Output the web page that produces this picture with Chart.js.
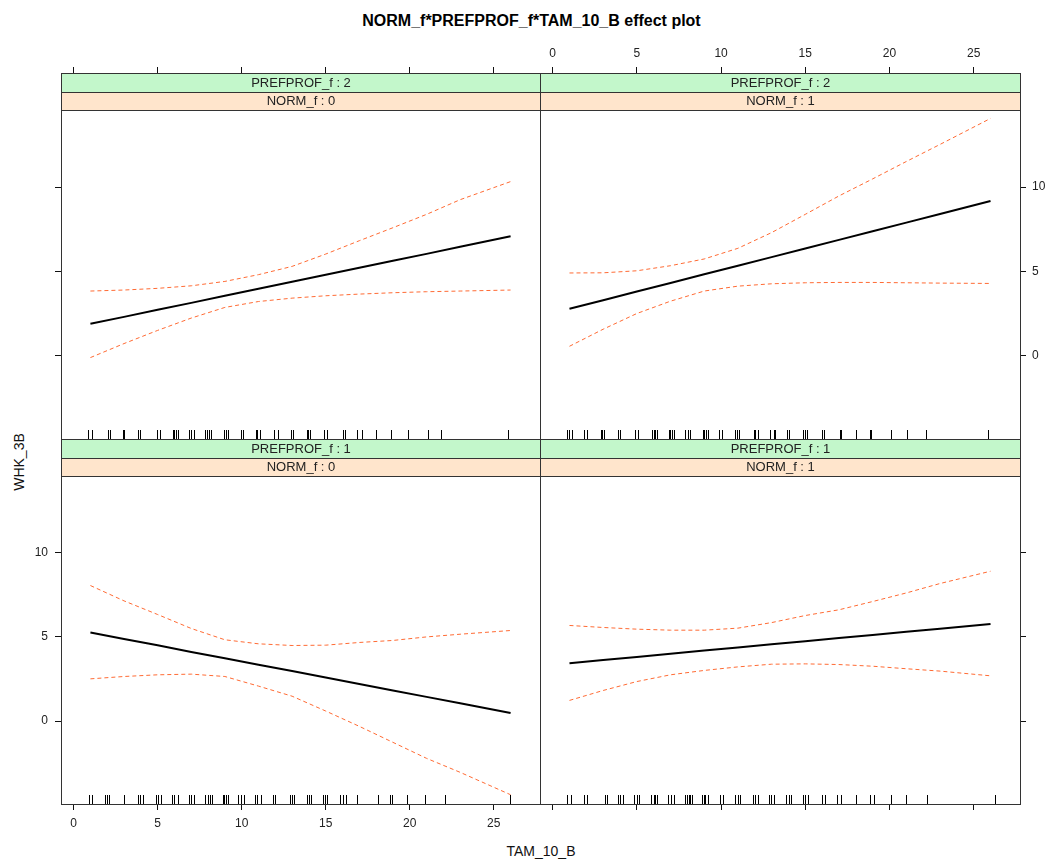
<!DOCTYPE html>
<html>
<head>
<meta charset="utf-8">
<title>NORM_f*PREFPROF_f*TAM_10_B effect plot</title>
<script src="https://cdn.jsdelivr.net/npm/chart.js@4.4.1/dist/chart.umd.min.js"></script>
<style>
body{margin:0;background:#fff;width:1047px;height:861px;overflow:hidden;position:relative;font-family:"Liberation Sans",Arial,sans-serif;color:#111}
canvas{position:absolute;left:0;top:0}
.lbl{position:absolute;white-space:nowrap;line-height:20px}
#title{left:0;top:11px;width:1063px;text-align:center;font-weight:bold;font-size:16px;color:#000}
#ylab{left:19px;top:462px;font-size:14px;transform:translate(-50%,-50%) rotate(-90deg)}
#xlab{left:541px;top:851px;font-size:14px;transform:translate(-50%,-50%)}
</style>
</head>
<body>
<div class="lbl" id="title">NORM_f*PREFPROF_f*TAM_10_B effect plot</div>
<div class="lbl" id="ylab">WHK_3B</div>
<div class="lbl" id="xlab">TAM_10_B</div>
<canvas id="p1" width="1047" height="861"></canvas>
<canvas id="p2" width="1047" height="861"></canvas>
<canvas id="p3" width="1047" height="861"></canvas>
<canvas id="p4" width="1047" height="861"></canvas>
<script>
/* DATA */
const xGrid=[1,3,5,7,9,11,13,15,17,19,21,23,26];
const xTicks=[0,5,10,15,20,25];
const yTicks=[0,5,10];

// PREFPROF_f : 2 / NORM_f : 0
const fitP2N0=[1.90,2.31,2.73,3.14,3.56,3.97,4.39,4.80,5.22,5.63,6.04,6.46,7.08];
const upP2N0=[3.84,3.90,4.00,4.15,4.41,4.81,5.30,6.03,6.82,7.59,8.38,9.25,10.32];
const loP2N0=[-0.10,0.73,1.51,2.24,2.87,3.22,3.42,3.56,3.66,3.74,3.80,3.84,3.90];
const rugP2N0=[0.88,1.07,2.02,2.16,2.94,3.02,3.85,3.97,4.96,5.12,5.89,5.98,6.08,6.19,6.84,6.98,7.14,7.83,7.93,8.05,8.17,8.96,9.06,9.16,9.95,10.05,10.84,10.94,11.08,11.93,12.17,12.96,13.06,13.86,13.95,14.07,14.87,15.1,16.04,16.15,16.89,17.15,18.02,18.87,19.92,21.09,21.84,25.85];

// PREFPROF_f : 2 / NORM_f : 1
const fitP2N1=[2.79,3.30,3.81,4.32,4.83,5.34,5.85,6.36,6.87,7.38,7.89,8.40,9.17];
const upP2N1=[4.91,4.92,5.04,5.34,5.74,6.37,7.30,8.38,9.47,10.48,11.51,12.52,14.06];
const loP2N1=[0.57,1.58,2.51,3.24,3.84,4.13,4.27,4.33,4.35,4.35,4.33,4.31,4.29];
const rugP2N1=[0.88,0.99,1.13,1.89,2.02,2.86,2.96,3.07,3.87,4.01,4.92,5.04,5.89,5.99,6.09,6.19,6.88,6.98,7.08,7.18,7.87,8.03,8.17,8.9,9.0,9.1,9.22,9.89,10.05,10.84,10.94,11.08,11.93,12.03,12.17,12.88,13.12,13.22,13.92,14.01,14.87,14.98,15.1,15.99,16.1,17.05,17.15,18.04,18.83,18.93,20.12,21.05,22.14,25.85];

// PREFPROF_f : 1 / NORM_f : 0
const fitP1N0=[5.26,4.88,4.50,4.11,3.73,3.35,2.97,2.59,2.20,1.82,1.44,1.06,0.48];
const upP1N0=[8.05,7.14,6.33,5.50,4.83,4.59,4.49,4.51,4.67,4.79,5.00,5.16,5.38];
const loP1N0=[2.51,2.65,2.75,2.79,2.65,2.08,1.48,0.60,-0.31,-1.26,-2.21,-3.04,-4.37];
const rugP1N0=[0.93,1.07,1.89,1.98,2.12,3.02,3.85,3.97,4.11,4.9,5.04,5.2,5.85,5.99,6.19,6.84,6.98,7.18,7.83,7.97,8.11,8.21,8.86,8.96,9.06,9.2,9.81,9.95,10.11,10.8,10.94,11.14,11.89,11.99,12.86,12.98,13.12,13.88,14.01,14.15,14.81,14.97,15.1,15.86,16.0,16.19,16.85,18.12,18.83,18.97,19.86,20.89,22.08,25.94];

// PREFPROF_f : 1 / NORM_f : 1
const fitP1N1=[3.44,3.63,3.81,4.00,4.19,4.37,4.56,4.74,4.93,5.12,5.30,5.49,5.77];
const upP1N1=[5.68,5.56,5.46,5.40,5.40,5.52,5.85,6.27,6.61,7.10,7.61,8.17,8.90];
const loP1N1=[1.23,1.82,2.35,2.75,3.01,3.22,3.38,3.40,3.36,3.26,3.11,2.97,2.69];
const rugP1N1=[0.88,1.07,1.87,2.02,3.11,3.21,3.87,4.01,4.2,4.84,5.0,5.14,5.85,5.99,6.09,6.19,6.84,7.02,7.18,7.87,7.97,8.07,8.17,8.27,8.86,8.96,9.06,9.22,9.95,10.11,10.84,10.98,11.14,11.87,12.03,12.17,12.83,12.98,13.16,13.88,14.01,14.15,14.87,15.0,15.16,15.99,16.19,16.89,17.15,18.04,18.87,19.07,20.12,20.99,22.2,26.24];

/* LAYOUT */
const W=1047, H=861;
const FONT='"Liberation Sans", Arial, sans-serif';
const TICK=6, LABELSIZE=40;
const XMIN=-0.75, XMAX=27.75, YMIN=-4.92, YMAX=16.75;
const STRIP_H=18.7;

const panels=[
  {id:'p1',strips:['PREFPROF_f : 2','NORM_f : 0'],area:{l:61,t:73,r:540,b:439},
   fit:fitP2N0,up:upP2N0,lo:loP2N0,rug:rugP2N0,top:'ticks',left:'ticks',right:'none',bottom:'none'},
  {id:'p2',strips:['PREFPROF_f : 2','NORM_f : 1'],area:{l:540,t:73,r:1020,b:439},
   fit:fitP2N1,up:upP2N1,lo:loP2N1,rug:rugP2N1,top:'labels',left:'none',right:'labels',bottom:'none'},
  {id:'p3',strips:['PREFPROF_f : 1','NORM_f : 0'],area:{l:61,t:439,r:540,b:804},
   fit:fitP1N0,up:upP1N0,lo:loP1N0,rug:rugP1N0,top:'none',left:'labels',right:'none',bottom:'labels'},
  {id:'p4',strips:['PREFPROF_f : 1','NORM_f : 1'],area:{l:540,t:439,r:1020,b:804},
   fit:fitP1N1,up:upP1N1,lo:loP1N1,rug:rugP1N1,top:'none',left:'none',right:'ticks',bottom:'ticks'}
];

function sideSize(mode){ return mode==='none'?0:(mode==='labels'?LABELSIZE:TICK); }

function axis(pos,mode,ticks,min,max,pad){
  const horiz=pos==='top'||pos==='bottom';
  return {
    type:'linear',position:pos,min:min,max:max,
    display:mode!=='none',
    afterBuildTicks:s=>{ s.ticks=ticks.map(v=>({value:v})); },
    afterFit:s=>{ if(horiz) s.height=sideSize(mode); else s.width=sideSize(mode); },
    grid:{display:true,drawOnChartArea:false,drawTicks:true,tickLength:TICK,color:'#111',lineWidth:1},
    border:{display:false},
    ticks:{display:mode==='labels',padding:pad,autoSkip:false,maxRotation:0,
      color:'#222',font:{family:FONT,size:12}}
  };
}

/* strips, panel box and rug */
const lattice={
  id:'lattice',
  afterDatasetsDraw(chart,args,opts){
    const {ctx,chartArea:a}=chart;
    const xs=chart.scales.x;
    const l=Math.round(a.left)+0.5, r=Math.round(a.right)+0.5;
    const t=Math.round(a.top)+0.5, b=Math.round(a.bottom)+0.5;
    ctx.save();
    // rug
    ctx.strokeStyle='#000';
    ctx.lineWidth=1;
    opts.rug.forEach(v=>{
      const px=Math.round(xs.getPixelForValue(v))+0.5;
      ctx.beginPath();
      ctx.moveTo(px,b);
      ctx.lineTo(px,b-9.5);
      ctx.stroke();
    });
    // strips
    const cols=['#c3f7cb','#ffe5cc'];
    ctx.font='13px '+FONT;
    ctx.textAlign='center';
    ctx.textBaseline='middle';
    opts.strips.forEach((txt,i)=>{
      const y0=Math.round(a.top+i*STRIP_H), y1=Math.round(a.top+(i+1)*STRIP_H);
      ctx.fillStyle=cols[i];
      ctx.fillRect(l,y0,r-l,y1-y0);
      ctx.fillStyle='#222';
      ctx.fillText(txt,(l+r)/2,(y0+y1)/2+0.5);
      ctx.strokeStyle='#333';
      ctx.strokeRect(l,y0+0.5,r-l,y1-y0);
    });
    // panel box
    ctx.strokeStyle='#333';
    ctx.strokeRect(l,t,r-l,b-t);
    ctx.restore();
  }
};

panels.forEach(p=>{
  const a=p.area;
  const pts=arr=>xGrid.map((x,i)=>({x:x,y:arr[i]}));
  new Chart(document.getElementById(p.id),{
    type:'scatter',
    data:{datasets:[
      {data:pts(p.up),showLine:true,borderColor:'#ff6a33',borderWidth:1,borderDash:[4,3],pointRadius:0},
      {data:pts(p.lo),showLine:true,borderColor:'#ff6a33',borderWidth:1,borderDash:[4,3],pointRadius:0},
      {data:pts(p.fit),showLine:true,borderColor:'#000',borderWidth:2,pointRadius:0}
    ]},
    options:{
      responsive:false,animation:false,devicePixelRatio:1,
      layout:{padding:{
        left:a.l-sideSize(p.left),
        top:a.t-sideSize(p.top),
        right:W-a.r-sideSize(p.right),
        bottom:H-a.b-sideSize(p.bottom)}},
      plugins:{legend:{display:false},tooltip:{enabled:false},
        lattice:{strips:p.strips,rug:p.rug}},
      scales:{
        x:axis('bottom',p.bottom,xTicks,XMIN,XMAX,6),
        x2:axis('top',p.top,xTicks,XMIN,XMAX,6),
        y:axis('left',p.left,yTicks,YMIN,YMAX,7),
        y2:axis('right',p.right,yTicks,YMIN,YMAX,6)
      }
    },
    plugins:[lattice]
  });
});
</script>
</body>
</html>
